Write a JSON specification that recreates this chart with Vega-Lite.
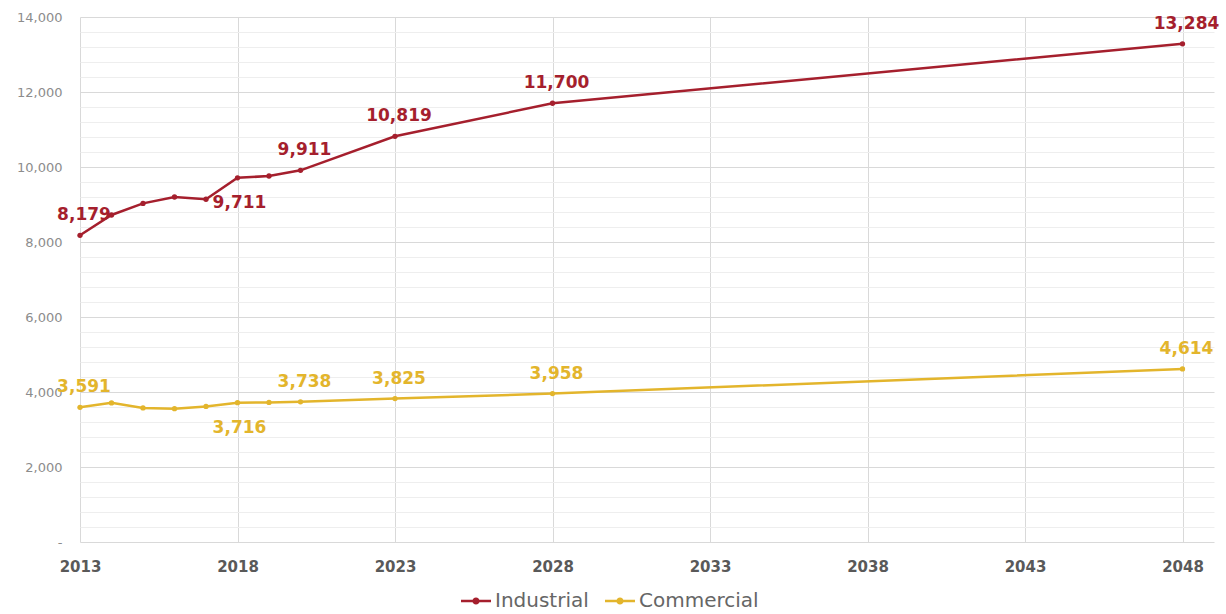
{
  "$schema": "https://vega.github.io/schema/vega-lite/v6.json",
  "width": 1134,
  "height": 525,
  "autosize": {"type": "none"},
  "padding": {"left": 80, "top": 17, "right": 12, "bottom": 72},
  "background": "#ffffff",
  "config": {
    "view": {"stroke": null},
    "font": "DejaVu Sans"
  },
  "data": {
    "values": [
      {"year": 2013, "series": "Industrial", "value": 8179},
      {"year": 2014, "series": "Industrial", "value": 8720},
      {"year": 2015, "series": "Industrial", "value": 9030},
      {"year": 2016, "series": "Industrial", "value": 9200},
      {"year": 2017, "series": "Industrial", "value": 9140},
      {"year": 2018, "series": "Industrial", "value": 9711},
      {"year": 2019, "series": "Industrial", "value": 9760},
      {"year": 2020, "series": "Industrial", "value": 9911},
      {"year": 2023, "series": "Industrial", "value": 10819},
      {"year": 2028, "series": "Industrial", "value": 11700},
      {"year": 2048, "series": "Industrial", "value": 13284},
      {"year": 2013, "series": "Commercial", "value": 3591},
      {"year": 2014, "series": "Commercial", "value": 3710},
      {"year": 2015, "series": "Commercial", "value": 3575},
      {"year": 2016, "series": "Commercial", "value": 3555},
      {"year": 2017, "series": "Commercial", "value": 3615},
      {"year": 2018, "series": "Commercial", "value": 3716},
      {"year": 2019, "series": "Commercial", "value": 3722},
      {"year": 2020, "series": "Commercial", "value": 3738},
      {"year": 2023, "series": "Commercial", "value": 3825},
      {"year": 2028, "series": "Commercial", "value": 3958},
      {"year": 2048, "series": "Commercial", "value": 4614}
    ]
  },
  "encoding": {
    "x": {
      "field": "year",
      "type": "quantitative",
      "scale": {"domain": [2013, 2049], "nice": false, "zero": false},
      "axis": {
        "title": null,
        "values": [2013, 2018, 2023, 2028, 2033, 2038, 2043, 2048],
        "format": "d",
        "domain": false,
        "ticks": false,
        "grid": true,
        "gridColor": "#d9d9d9",
        "gridWidth": 1,
        "labelFlush": false,
        "labelFont": "DejaVu Sans",
        "labelFontSize": 15,
        "labelFontWeight": "bold",
        "labelColor": "#595959",
        "labelPadding": 17
      }
    },
    "y": {
      "field": "value",
      "type": "quantitative",
      "scale": {"domain": [0, 14000], "nice": false},
      "axis": {
        "title": null,
        "values": [0, 400, 800, 1200, 1600, 2000, 2400, 2800, 3200, 3600, 4000, 4400, 4800, 5200, 5600, 6000, 6400, 6800, 7200, 7600, 8000, 8400, 8800, 9200, 9600, 10000, 10400, 10800, 11200, 11600, 12000, 12400, 12800, 13200, 13600, 14000],
        "labelExpr": "datum.value % 2000 === 0 ? (datum.value === 0 ? '-\u00a0\u00a0\u00a0' : format(datum.value, ',')) : ''",
        "domain": false,
        "ticks": false,
        "grid": true,
        "gridColor": {"condition": {"test": "datum.value % 2000 === 0", "value": "#d9d9d9"}, "value": "#eeeeee"},
        "gridWidth": 1,
        "labelFont": "DejaVu Sans",
        "labelFontSize": 13,
        "labelColor": "#8c8c8c",
        "labelPadding": 18
      }
    },
    "color": {
      "field": "series",
      "type": "nominal",
      "scale": {"domain": ["Industrial", "Commercial"], "range": ["#A51F2D", "#E3B52C"]},
      "legend": {
        "title": null,
        "orient": "none",
        "legendX": 381,
        "legendY": 569,
        "direction": "horizontal",
        "symbolType": "M-1,-0.08H1V0.08H-1Z M-0.24,0A0.24,0.24 0 1,1 0.24,0A0.24,0.24 0 1,1 -0.24,0Z",
        "symbolSize": 900,
        "symbolStrokeWidth": 0,
        "labelFont": "DejaVu Sans",
        "labelFontSize": 20,
        "labelColor": "#666666",
        "labelOffset": 4,
        "columnPadding": 16,
        "encode": {
          "symbols": {
            "update": {
              "fill": {"scale": "color", "field": "value"},
              "stroke": {"value": "transparent"},
              "fillOpacity": {"value": 1}
            }
          }
        }
      }
    }
  },
  "layer": [
    {
      "mark": {"type": "line", "strokeWidth": 2.5}
    },
    {
      "mark": {"type": "point", "filled": true, "size": 28, "opacity": 1}
    },
    {
      "transform": [{"filter": "indexof([2013, 2020, 2023, 2028, 2048], datum.year) >= 0"}],
      "mark": {"type": "text", "fontSize": 17, "fontWeight": "bold", "font": "DejaVu Sans", "dx": 4, "dy": -20, "baseline": "middle", "align": "center"},
      "encoding": {
        "text": {"field": "value", "type": "quantitative", "format": ",.0f"},
        "color": {"field": "series", "type": "nominal", "legend": null}
      }
    },
    {
      "transform": [{"filter": "datum.year === 2018"}],
      "mark": {"type": "text", "fontSize": 17, "fontWeight": "bold", "font": "DejaVu Sans", "dx": 2, "dy": 25, "baseline": "middle", "align": "center"},
      "encoding": {
        "text": {"field": "value", "type": "quantitative", "format": ",.0f"},
        "color": {"field": "series", "type": "nominal", "legend": null}
      }
    }
  ]
}
